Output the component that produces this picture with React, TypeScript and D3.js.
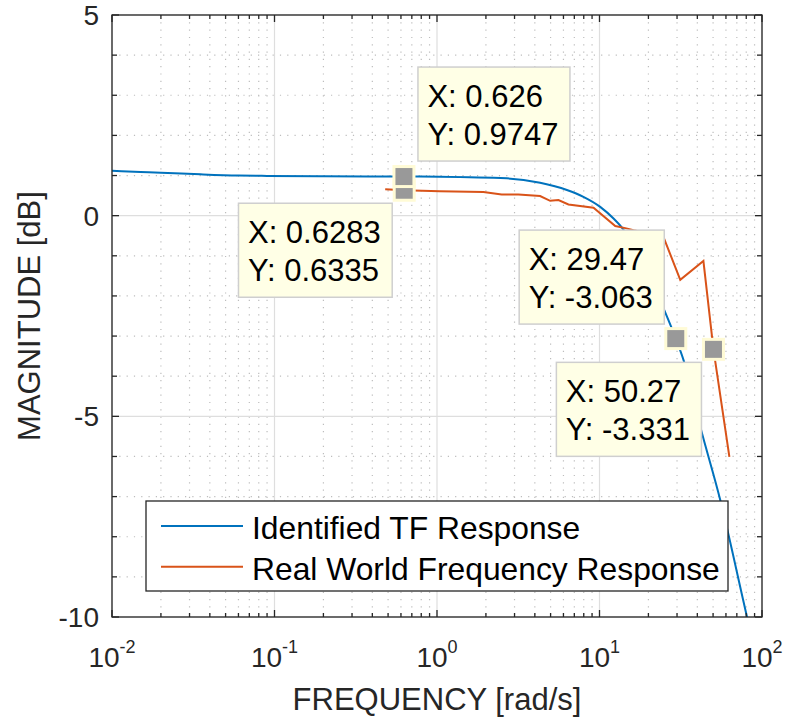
import React from "react";
import * as d3 from "d3";

// ---- Data ----
const tfFreq = [0.01, 0.015, 0.02, 0.035, 0.06, 0.09, 0.2, 0.626, 1.04, 2.69, 4.31, 6.3, 7.96, 10.1, 12.2, 13.7, 20, 25, 29.47, 32.9, 41.7, 55.4, 80.9, 90];
const tfMag = [1.12, 1.09, 1.07, 1.03, 1.0, 0.99, 0.98, 0.9747, 0.97, 0.93, 0.82, 0.64, 0.47, 0.22, -0.07, -0.29, -1.45, -2.35, -3.063, -3.6, -5.26, -7.09, -10, -10.8];

const realFreq = [0.48, 0.6283, 1.04, 1.93, 2.5, 3.17, 4.31, 4.97, 5.59, 6.44, 9.19, 12.5, 14.4, 16.2, 24.7, 31.4, 43.6, 50.27, 63];
const realMag = [0.66, 0.6335, 0.61, 0.59, 0.53, 0.53, 0.49, 0.37, 0.39, 0.28, 0.2, -0.26, -0.31, -0.36, -0.52, -1.6, -1.13, -3.331, -6.01];

const seriesNames = ["Identified TF Response", "Real World Frequency Response"];
const seriesColors = ["#0072BD", "#D95319"];

const xDecades = [-2, -1, 0, 1, 2];
const yMajorTicks = [-10, -5, 0, 5];
const yTickLabels = ["-10", "-5", "0", "5"];

// Data tips: series index, x, y (as displayed)
const tipSeries = [0, 1, 0, 1];
const tipXText = ["0.626", "0.6283", "29.47", "50.27"];
const tipYText = ["0.9747", "0.6335", "-3.063", "-3.331"];
const tipPlacement = ["ur", "ll", "ul", "ll"];
const drawOrder = [1, 0, 2, 3];

const FONT = "'Liberation Sans', Arial, Helvetica, sans-serif";

let measureCtx: CanvasRenderingContext2D | null = null;
function measure(text: string, size: number) {
  if (!measureCtx) {
    const c = document.createElement("canvas");
    measureCtx = c.getContext("2d");
  }
  if (!measureCtx) return text.length * size * 0.55;
  measureCtx.font = `${size}px 'Liberation Sans', Arial, sans-serif`;
  return measureCtx.measureText(text).width;
}

export default function App() {
  const W = 789, H = 717;
  const L = 112, R = 762, T = 15, B = 617;
  const x = d3.scaleLog().domain([1e-2, 1e2]).range([L, R]);
  const y = d3.scaleLinear().domain([-10, 5]).range([B, T]);

  const minorX: number[] = [];
  for (let d = -2; d < 2; d++) for (let k = 2; k <= 9; k++) minorX.push(k * Math.pow(10, d));
  const minorY: number[] = [];
  for (let v = -10; v <= 5; v++) if (v % 5 !== 0) minorY.push(v);

  const tfPath = d3
    .line<[number, number]>()
    .x((d) => x(d[0]))
    .y((d) => y(d[1]))
    .curve(d3.curveMonotoneX)(tfFreq.map((f, i) => [f, tfMag[i]]) as [number, number][]);
  const realPath = d3
    .line<[number, number]>()
    .x((d) => x(d[0]))
    .y((d) => y(d[1]))(realFreq.map((f, i) => [f, realMag[i]]) as [number, number][]);

  const axisColor = "#262626";
  const majTick = 7, minTick = 4;

  const tipFont = 31;
  const boxH = 94;

  return (
    <svg width={W} height={H} style={{ position: "absolute", left: 0, top: 0, background: "#fff" }} fontFamily={FONT}>
      <defs>
        <clipPath id="plotclip">
          <rect x={L} y={T} width={R - L} height={B - T} />
        </clipPath>
      </defs>
      <rect x={0} y={0} width={W} height={H} fill="#fff" />
      {/* minor grid */}
      <g stroke="#bdbdbd" strokeWidth={1.2} strokeDasharray="1.2 6.1">
        {minorX.map((v, i) => (
          <line key={"mx" + i} x1={x(v)} x2={x(v)} y1={T} y2={B} />
        ))}
        {minorY.map((v, i) => (
          <line key={"my" + i} x1={L} x2={R} y1={y(v)} y2={y(v)} />
        ))}
      </g>
      {/* major grid */}
      <g stroke="#dedede" strokeWidth={1.2}>
        {xDecades.map((d, i) => (
          <line key={"gx" + i} x1={x(Math.pow(10, d))} x2={x(Math.pow(10, d))} y1={T} y2={B} />
        ))}
        {yMajorTicks.map((v, i) => (
          <line key={"gy" + i} x1={L} x2={R} y1={y(v)} y2={y(v)} />
        ))}
      </g>
      {/* lines */}
      <g clipPath="url(#plotclip)" fill="none" strokeWidth={2}>
        <path d={tfPath || ""} stroke={seriesColors[0]} />
        <path d={realPath || ""} stroke={seriesColors[1]} />
      </g>
      {/* axes box and ticks */}
      <g stroke={axisColor} strokeWidth={1.3}>
        <rect x={L} y={T} width={R - L} height={B - T} fill="none" />
        {xDecades.map((d, i) => {
          const px = x(Math.pow(10, d));
          return (
            <g key={"tx" + i}>
              <line x1={px} x2={px} y1={B} y2={B - majTick} />
              <line x1={px} x2={px} y1={T} y2={T + majTick} />
            </g>
          );
        })}
        {minorX.map((v, i) => (
          <g key={"tmx" + i}>
            <line x1={x(v)} x2={x(v)} y1={B} y2={B - minTick} />
            <line x1={x(v)} x2={x(v)} y1={T} y2={T + minTick} />
          </g>
        ))}
        {yMajorTicks.map((v, i) => (
          <g key={"ty" + i}>
            <line x1={L} x2={L + majTick} y1={y(v)} y2={y(v)} />
            <line x1={R} x2={R - majTick} y1={y(v)} y2={y(v)} />
          </g>
        ))}
        {minorY.map((v, i) => (
          <g key={"tmy" + i}>
            <line x1={L} x2={L + 5} y1={y(v)} y2={y(v)} />
            <line x1={R} x2={R - 5} y1={y(v)} y2={y(v)} />
          </g>
        ))}
      </g>
      {/* tick labels */}
      <g fill={axisColor}>
        {yMajorTicks.map((v, i) => (
          <text key={"yl" + i} x={L - 13} y={y(v)} dy="0.36em" textAnchor="end" fontSize={28}>
            {yTickLabels[i]}
          </text>
        ))}
        {xDecades.map((d, i) => (
          <text key={"xl" + i} x={x(Math.pow(10, d))} y={667} textAnchor="middle" fontSize={28}>
            <tspan>10</tspan>
            <tspan dy={-14} fontSize={18}>
              {String(d)}
            </tspan>
          </text>
        ))}
        <text x={(L + R) / 2} y={710} textAnchor="middle" fontSize={31}>
          FREQUENCY [rad/s]
        </text>
        <text transform={`translate(40,${(T + B) / 2}) rotate(-90)`} textAnchor="middle" fontSize={31}>
          MAGNITUDE [dB]
        </text>
      </g>
      {/* legend */}
      <g>
        <rect x={146} y={501} width={582} height={90} fill="#fff" stroke={axisColor} strokeWidth={1.3} />
        {seriesNames.map((n, i) => (
          <g key={"lg" + i}>
            <line x1={161} x2={243} y1={526 + i * 40.7} y2={526 + i * 40.7} stroke={seriesColors[i]} strokeWidth={2} />
            <text x={252} y={539 + i * 40.7} fontSize={31.8} fill="#000">
              {n}
            </text>
          </g>
        ))}
      </g>
      {/* data tip boxes */}
      {tipSeries.map((s, i) => {
        const fx = parseFloat(tipXText[i]);
        const fy = parseFloat(tipYText[i]);
        const mx = x(fx), my = y(fy);
        const l1 = `X: ${tipXText[i]}`;
        const l2 = `Y: ${tipYText[i]}`;
        const w = Math.max(measure(l1, tipFont), measure(l2, tipFont)) + 21;
        const p = tipPlacement[i];
        let bx = 0, by = 0;
        if (p === "ur") { bx = mx + 14; by = my - 15.5 - boxH; }
        else if (p === "ll") { bx = mx - 12 - w; by = my + 13; }
        else { bx = mx - 11.5 - w; by = my - 14.5 - boxH; }
        return (
          <g key={"tip" + i}>
            <rect x={bx} y={by} width={w} height={boxH} fill="#ffffe6" stroke="#cfcfcf" strokeWidth={1.5} />
            <text x={bx + 9.5} y={by + 39.5} fontSize={tipFont} fill="#000">{l1}</text>
            <text x={bx + 9.5} y={by + 78} fontSize={tipFont} fill="#000">{l2}</text>
          </g>
        );
      })}
      {/* data tip markers */}
      {drawOrder.map((i) => {
        const mx = x(parseFloat(tipXText[i]));
        const my = y(parseFloat(tipYText[i]));
        return (
          <rect key={"mk" + i} x={mx - 10} y={my - 10} width={20} height={20} fill="#999999" stroke="#fffbd6" strokeWidth={3} />
        );
      })}
    </svg>
  );
}
